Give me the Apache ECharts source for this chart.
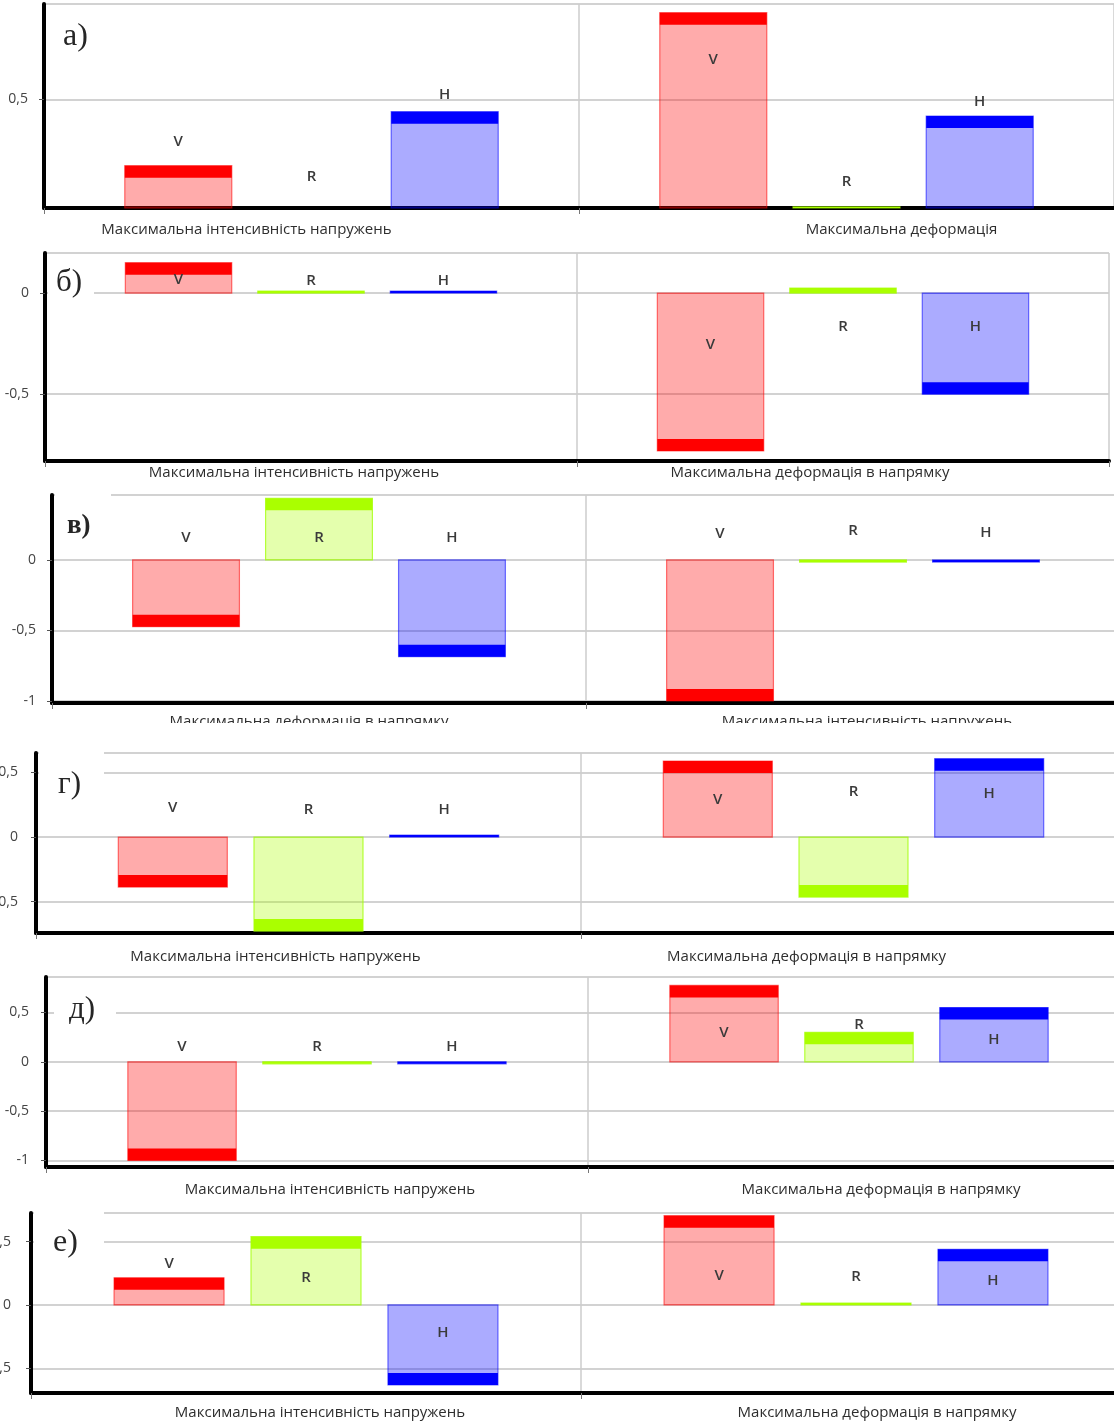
<!DOCTYPE html>
<html>
<head>
<meta charset="utf-8">
<script src="https://cdn.jsdelivr.net/npm/echarts@6/dist/echarts.min.js"></script>
<style>
  html, body { margin: 0; padding: 0; background: #fff; }
  #sheet { position: relative; width: 1114px; height: 1426px; overflow: hidden; background: #fff; }
  .panel { position: absolute; left: 0; overflow: hidden; }
</style>
</head>
<body>
<div id="sheet"></div>
<script>
// ---- data -------------------------------------------------------------
const panelTags = ['а)', 'б)', 'в)', 'г)', 'д)', 'е)'];

const groupNames = [
  ['Максимальна інтенсивність напружень', 'Максимальна деформація'],
  ['Максимальна інтенсивність напружень', 'Максимальна деформація в напрямку'],
  ['Максимальна деформація в напрямку', 'Максимальна інтенсивність напружень'],
  ['Максимальна інтенсивність напружень', 'Максимальна деформація в напрямку'],
  ['Максимальна інтенсивність напружень', 'Максимальна деформація в напрямку'],
  ['Максимальна інтенсивність напружень', 'Максимальна деформація в напрямку']
];

const seriesNames = ['V', 'R', 'H'];

// [left group, right group] for every panel
const valuesV = [[0.195, 0.90], [0.15, -0.78], [-0.473, -1.0], [-0.387, 0.588], [-1.0, 0.775], [0.215, 0.705]];
const valuesR = [[0, 0.005], [0.01, 0.025], [0.437, -0.015], [-0.727, -0.464], [-0.02, 0.30], [0.539, 0.015]];
const valuesH = [[0.444, 0.424], [0.01, -0.50], [-0.686, -0.015], [0.015, 0.606], [-0.02, 0.551], [-0.631, 0.44]];

const tickStep = 0.5;

// ---- layout -----------------------------------------------------------
// absolute page pixels of every panel frame
const frames = [
  { top: 0,    bottom: 242,  axisX: 44, plotTop: 4,    axisY: 208,  rightX: 1114, yMin: 0,      yMax: 0.94,  tickGap: 16, catGap: 14, catShift: [-65, 55],  tag: [63, 37, 32, 'normal'], mask: null },
  { top: 243,  bottom: 484,  axisX: 45, plotTop: 253,  axisY: 461,  rightX: 1109, yMin: -0.83,  yMax: 0.198, tickGap: 16, catGap: 4,  catShift: [-17, -33], tag: [56, 40, 31, 'normal'], mask: [48, 19, 46, 40] },
  { top: 485,  bottom: 723,  axisX: 52, plotTop: 495,  axisY: 703,  rightX: 1120, yMin: -1.014, yMax: 0.46,  tickGap: 16, catGap: 11, catShift: [-10, 14],  tag: [67, 41, 27, 'bold'],   mask: [55, 3, 56, 57] },
  { top: 735,  bottom: 967,  axisX: 36, plotTop: 753,  axisY: 933,  rightX: 1126, yMin: -0.742, yMax: 0.65,  tickGap: 18, catGap: 16, catShift: [-33, -47], tag: [58, 50, 31, 'normal'], mask: [39, 11, 65, 54] },
  { top: 968,  bottom: 1200, axisX: 46, plotTop: 977,  axisY: 1167, rightX: 1130, yMin: -1.066, yMax: 0.86,  tickGap: 17, catGap: 15, catShift: [13, 22],   tag: [69, 42, 31, 'normal'], mask: [54, 17, 62, 55] },
  { top: 1203, bottom: 1426, axisX: 31, plotTop: 1213, axisY: 1393, rightX: 1131, yMin: -0.695, yMax: 0.726, tickGap: 20, catGap: 12, catShift: [14, 21],   tag: [53, 40, 32, 'normal'], mask: [34, 6, 70, 61] }
];

// pixels between the zero line and the V / R / H captions, [left, right]
const tagLift = [
  [[66, 148], [31, 26], [113, 106]],
  [[13, -52], [12, -34], [12, -34]],
  [[22, 26], [22, 29], [22, 27]],
  [[29, 37], [27, 45], [27, 43]],
  [[15, 29], [15, 37], [15, 22]],
  [[41, 29], [27, 28], [-28, 24]]
];

const palette = [
  { cap: '#ff0000', fill: 'rgba(255,0,0,0.33)',   edge: 'rgba(255,0,0,0.55)' },
  { cap: '#aaff00', fill: 'rgba(170,255,0,0.32)', edge: 'rgba(160,255,0,0.75)' },
  { cap: '#0000ff', fill: 'rgba(0,0,255,0.33)',   edge: 'rgba(0,0,255,0.55)' }
];
const CAP_PX = 12;
const BAR_FRAC = 0.2;
const STEP_FRAC = 0.249;

const seriesValues = [valuesV, valuesR, valuesH];

function makeRender(s, p) {
  const pal = palette[s];
  return function (params, api) {
    const cat = api.value(0);
    const val = api.value(1);
    const zero = api.coord([cat, 0]);
    const end = api.coord([cat, val]);
    const band = api.size([1, 0])[0];
    const w = band * BAR_FRAC;
    const cx = zero[0] + (s - 1) * band * STEP_FRAC;
    const yTop = Math.min(zero[1], end[1]);
    const h = Math.abs(end[1] - zero[1]);
    const children = [];
    if (h > 0) {
      const capH = Math.min(CAP_PX, h);
      children.push({
        type: 'rect',
        shape: { x: cx - w / 2, y: yTop, width: w, height: h },
        style: { fill: pal.fill, stroke: pal.edge, lineWidth: 1.2 }
      });
      children.push({
        type: 'rect',
        shape: { x: cx - w / 2, y: val >= 0 ? yTop : yTop + h - capH, width: w, height: capH },
        style: { fill: pal.cap }
      });
    }
    children.push({
      type: 'text',
      style: {
        text: seriesNames[s],
        x: cx,
        y: zero[1] - tagLift[p][s][cat],
        align: 'center',
        verticalAlign: 'middle',
        font: '600 15px "Open Sans"',
        fill: '#3a3a3a'
      }
    });
    return { type: 'group', children: children };
  };
}

function catStyle(d) {
  return {
    fontFamily: 'Open Sans',
    fontSize: 15,
    color: '#2e2e2e',
    padding: d >= 0 ? [0, 0, 0, 2 * d] : [0, -2 * d, 0, 0]
  };
}

const sheet = document.getElementById('sheet');

frames.forEach(function (f, p) {
  const div = document.createElement('div');
  div.className = 'panel';
  div.style.top = f.top + 'px';
  div.style.width = (f.rightX + 6) + 'px';
  div.style.height = (f.bottom - f.top) + 'px';
  sheet.appendChild(div);

  const chart = echarts.init(div, null, { renderer: 'canvas' });

  const graphics = [];
  if (f.mask) {
    graphics.push({
      type: 'rect', z: 1,
      shape: { x: f.mask[0], y: f.mask[1], width: f.mask[2], height: f.mask[3] },
      style: { fill: '#ffffff' }
    });
  }
  graphics.push({
    type: 'text', z: 1,
    style: {
      text: panelTags[p],
      x: f.tag[0], y: f.tag[1],
      verticalAlign: 'middle',
      font: f.tag[3] + ' ' + f.tag[2] + 'px "Liberation Serif"',
      fill: '#262626'
    }
  });

  chart.setOption({
    animation: false,
    backgroundColor: 'transparent',
    grid: {
      left: f.axisX,
      top: f.plotTop - f.top,
      width: f.rightX - f.axisX,
      height: f.axisY - f.plotTop,
      containLabel: false,
      outerBoundsMode: 'none'
    },
    xAxis: {
      type: 'category',
      data: groupNames[p],
      boundaryGap: true,
      axisLine: { onZero: false, lineStyle: { color: '#000', width: 4 } },
      axisTick: { show: true, length: 6, lineStyle: { color: '#777', width: 1 } },
      axisLabel: {
        interval: 0,
        margin: f.catGap,
        formatter: function (v, i) { return '{c' + i + '|' + v + '}'; },
        rich: { c0: catStyle(f.catShift[0]), c1: catStyle(f.catShift[1]) }
      },
      splitLine: { show: true, lineStyle: { color: '#cdcdcd', width: 1.5 } }
    },
    yAxis: {
      type: 'value',
      min: f.yMin,
      max: f.yMax,
      splitNumber: 2,
      minInterval: tickStep,
      maxInterval: tickStep,
      axisLine: { show: true, onZero: false, lineStyle: { color: '#000', width: 4 } },
      axisTick: { show: true, length: 5, lineStyle: { color: '#555', width: 1 } },
      axisLabel: {
        margin: f.tickGap,
        showMinLabel: false,
        showMaxLabel: false,
        color: '#444',
        fontFamily: 'Open Sans',
        fontSize: 14,
        formatter: function (v) { return String(v).replace('.', ','); }
      },
      splitLine: { show: true, lineStyle: { color: '#d2d2d2', width: 2 } }
    },
    graphic: graphics,
    series: seriesNames.map(function (name, s) {
      return {
        type: 'custom',
        name: name,
        z: 2,
        renderItem: makeRender(s, p),
        encode: { x: 0, y: 1 },
        data: seriesValues[s][p].map(function (v, i) { return [i, v]; })
      };
    })
  });
});
</script>
</body>
</html>
